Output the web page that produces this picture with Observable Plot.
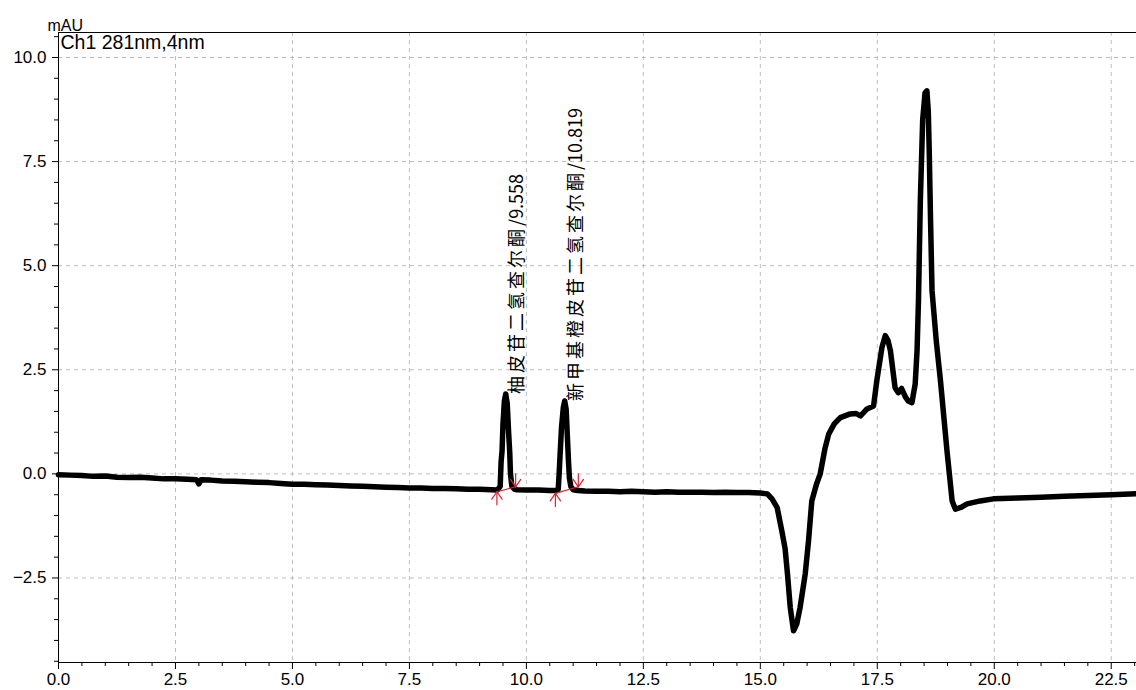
<!DOCTYPE html>
<html>
<head>
<meta charset="utf-8">
<script src="https://cdn.jsdelivr.net/npm/d3@7"></script>
<script src="https://cdn.jsdelivr.net/npm/@observablehq/plot@0.6"></script>
<style>
  body { margin: 0; background: #fff; }
  #chart svg { display: block; }
</style>
</head>
<body>
<div id="chart"></div>
<script>
// Retention time (min) of the detector trace
const times = [
  0.00, 0.25, 0.50, 0.75, 1.00, 1.25, 1.50, 1.75, 2.00, 2.25, 2.50, 2.75, 2.95, 3.00, 3.05,
  3.25, 3.50, 3.75, 4.00, 4.25, 4.50, 4.75, 5.00, 5.25, 5.50, 5.75, 6.00, 6.25, 6.50, 6.75,
  7.00, 7.25, 7.50, 7.75, 8.00, 8.25, 8.50, 8.75, 9.00, 9.25, 9.38,
  9.44, 9.46, 9.48, 9.50, 9.53, 9.558, 9.59, 9.62, 9.645, 9.66, 9.69, 9.75, 9.80,
  10.00, 10.25, 10.50, 10.65,
  10.68, 10.70, 10.72, 10.75, 10.79, 10.819, 10.85, 10.88, 10.90, 10.92, 10.95, 11.00, 11.10,
  11.25, 11.50, 11.75, 12.00, 12.25, 12.50, 12.75, 13.00, 13.25, 13.50, 13.75, 14.00, 14.25,
  14.50, 14.75, 15.00, 15.15, 15.25, 15.36, 15.46, 15.53, 15.58, 15.64, 15.71, 15.78, 15.85,
  15.96, 16.03, 16.10, 16.20, 16.28, 16.38, 16.46, 16.58, 16.71, 16.92, 17.05, 17.14, 17.28,
  17.42, 17.49, 17.60, 17.67, 17.73, 17.78, 17.88, 17.95, 18.02, 18.10, 18.16, 18.24, 18.31,
  18.35, 18.38, 18.42, 18.47, 18.52, 18.56, 18.59, 18.61, 18.64, 18.67, 18.76, 18.85, 18.99, 19.10,
  19.17, 19.30, 19.42, 19.70, 19.98, 20.50, 21.00, 21.50, 22.00, 22.50, 23.03
];

// Absorbance (mAU) at each retention time
const absorbance = [
  -0.02, -0.03, -0.04, -0.06, -0.05, -0.08, -0.09, -0.08, -0.10, -0.12, -0.12, -0.13, -0.14, -0.24, -0.14,
  -0.15, -0.17, -0.18, -0.19, -0.20, -0.21, -0.23, -0.25, -0.25, -0.26, -0.27, -0.28, -0.29, -0.30, -0.31,
  -0.32, -0.33, -0.34, -0.34, -0.35, -0.35, -0.36, -0.37, -0.37, -0.38, -0.39,
  -0.30, 0.30, 0.55, 1.20, 1.75, 1.92, 1.70, 1.00, 0.50, 0.00, -0.30, -0.37, -0.38,
  -0.39, -0.39, -0.40, -0.40,
  -0.38, 0.00, 0.45, 1.10, 1.60, 1.75, 1.55, 0.80, 0.30, -0.10, -0.30, -0.38, -0.40,
  -0.41, -0.42, -0.42, -0.43, -0.42, -0.43, -0.44, -0.43, -0.44, -0.44, -0.44, -0.45, -0.44,
  -0.45, -0.45, -0.46, -0.48, -0.60, -0.81, -1.37, -1.80, -2.40, -3.21, -3.77, -3.60, -3.21,
  -2.40, -1.61, -0.65, -0.25, 0.00, 0.60, 0.95, 1.20, 1.35, 1.44, 1.45, 1.39, 1.56,
  1.63, 2.24, 3.04, 3.32, 3.20, 2.96, 2.07, 1.95, 2.05, 1.85, 1.75, 1.71, 2.16,
  2.96, 4.16, 6.56, 8.50, 9.15, 9.20, 8.70, 7.76, 6.00, 4.40, 3.20, 2.24, 0.55, -0.65,
  -0.85, -0.80, -0.72, -0.65, -0.60, -0.58, -0.56, -0.54, -0.52, -0.50, -0.48
];

// Integrated peaks: names, apex times, apex heights, baseline start/end
const peakNames = ["柚皮苷二氢查尔酮", "新甲基橙皮苷二氢查尔酮"];
const peakApexTime = [9.558, 10.819];
const peakApexHeight = [1.92, 1.75];
const peakStartTime = [9.37, 10.62];
const peakStartLevel = [-0.43, -0.47];
const peakEndTime = [9.77, 11.11];
const peakEndLevel = [-0.31, -0.31];

// Axis ticks
const xMajorTicks = [0, 2.5, 5, 7.5, 10, 12.5, 15, 17.5, 20, 22.5];
const xMinorTicks = d3.range(0, 23.01, 0.5).filter(t => !xMajorTicks.includes(t));
const yMajorTicks = [-2.5, 0, 2.5, 5, 7.5, 10];
const yMinorTicks = d3.range(-4.5, 10.51, 0.5).filter(v => !yMajorTicks.includes(+v.toFixed(1)));

const channelLabel = "Ch1 281nm,4nm";
const unitLabel = "mAU";

const trace = times.map((t, i) => ({t, v: absorbance[i]}));
const peaks = peakNames.map((name, i) => ({
  name, time: String(peakApexTime[i]),
  label: `${name}/${peakApexTime[i]}`,
  t: peakApexTime[i], v: peakApexHeight[i],
  t0: peakStartTime[i], v0: peakStartLevel[i],
  t1: peakEndTime[i], v1: peakEndLevel[i]
}));

const font = "'Liberation Sans', Arial, sans-serif";
const red = "#d8232f";
const gridStyle = {stroke: "#bdbdbd", strokeOpacity: 1, strokeDasharray: "4,4"};

// a bare stroke (no arrowhead) for the integration tick fans
const stroke = {draw(context, l) { context.moveTo(0, 0); context.lineTo(0, -l); }};
const fan = (x, y, dir) => [
  Plot.vector(peaks, {x, y, rotate: dir, anchor: "start", length: 13, shape: stroke, stroke: red, strokeWidth: 1.2}),
  Plot.vector(peaks, {x, y, rotate: dir - 35, anchor: "start", length: 9, shape: stroke, stroke: red, strokeWidth: 1.2}),
  Plot.vector(peaks, {x, y, rotate: dir + 35, anchor: "start", length: 9, shape: stroke, stroke: red, strokeWidth: 1.2})
];

const chart = Plot.plot({
  width: 1136,
  height: 690,
  marginTop: 32,
  marginBottom: 28,
  marginLeft: 58,
  marginRight: 0,
  style: {fontFamily: font, fontSize: "17px", color: "#000", background: "#fff"},
  x: {domain: [0, 23.04]},
  y: {domain: [-4.53, 10.6]},
  marks: [
    Plot.gridX(xMajorTicks.filter(t => t > 0), gridStyle),
    Plot.gridY(yMajorTicks, gridStyle),
    Plot.frame({anchor: "top", stroke: "#000"}),
    Plot.frame({anchor: "left", stroke: "#000"}),
    Plot.frame({anchor: "bottom", stroke: "#000"}),
    Plot.axisX(xMajorTicks, {tickSize: 7, tickPadding: 3, tickFormat: d3.format(".1f"), label: null, fontSize: 17}),
    Plot.axisX(xMinorTicks, {tickSize: 4, text: null, label: null}),
    Plot.axisY(yMajorTicks, {tickSize: 6, tickPadding: 6, tickFormat: d3.format(".1f"), label: null, fontSize: 17}),
    Plot.axisY(yMinorTicks, {tickSize: 4, text: null, label: null}),
    Plot.line(trace, {x: "t", y: "v", stroke: "#000", strokeWidth: 5.5, strokeLinejoin: "round", strokeLinecap: "round"}),
    // integration baseline with start (fan below) and end (fan above) ticks
    Plot.link(peaks, {x1: "t0", y1: "v0", x2: "t1", y2: "v1", stroke: red, strokeWidth: 1.2}),
    ...fan("t0", "v0", 180),
    ...fan("t1", "v1", 0),
    // peak annotations
    Plot.text(peaks, {
      x: "t", y: "v", text: "label", rotate: -90, textAnchor: "start", dx: 12, dy: 0,
      fontSize: 18, fontFamily: "'Noto Sans CJK SC', sans-serif", fill: "#000"
    }),
    Plot.text([channelLabel], {frameAnchor: "top-left", dx: 2, dy: 3, lineAnchor: "top", textAnchor: "start", fontSize: 19.5}),
    Plot.text([unitLabel], {frameAnchor: "top-left", dx: -11, dy: -2, lineAnchor: "bottom", textAnchor: "start", fontSize: 16})
  ]
});

document.getElementById("chart").appendChild(chart);

// Peak annotations: compound name set wider, retention time kept tight
const byLabel = new Map(peaks.map(p => [p.label, p]));
d3.select(chart).selectAll("text")
  .filter(function() { return byLabel.has(this.textContent); })
  .each(function() {
    const p = byLabel.get(this.textContent);
    const text = d3.select(this).text(null);
    text.append("tspan").attr("letter-spacing", "3px").text(p.name);
    text.append("tspan").text("/" + p.time);
  });
</script>
</body>
</html>
